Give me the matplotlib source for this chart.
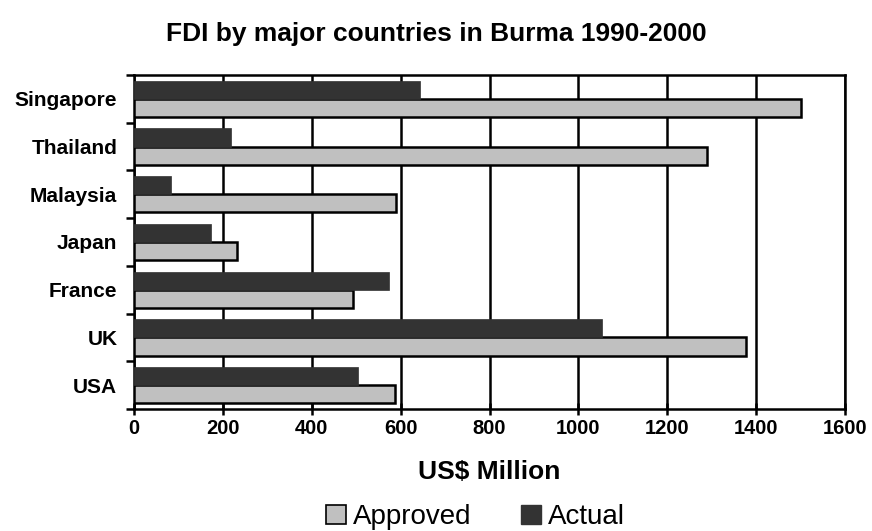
import numpy as np
import matplotlib
matplotlib.use("Agg")
import matplotlib.pyplot as plt
from matplotlib.patches import Patch

# data (US$ million)
countries = ["Singapore", "Thailand", "Malaysia", "Japan", "France", "UK", "USA"]
approved = [1500, 1290, 590, 231, 492, 1377, 587]
actual = [644, 218, 83, 174, 574, 1054, 503]
x_ticks = [0, 200, 400, 600, 800, 1000, 1200, 1400, 1600]

plt.rcParams["font.family"] = ["Liberation Sans", "DejaVu Sans"]

fig = plt.figure(figsize=(8.72, 5.31), dpi=100)
ax = fig.add_axes([0.1537, 0.2298, 0.8154, 0.629])

n = len(countries)
pos = np.arange(n)[::-1]  # Singapore on top
h = 0.38

ax.barh(pos - h / 2, approved, height=h, color="#c0c0c0",
        edgecolor="black", linewidth=1.8, zorder=3)
ax.barh(pos + h / 2, actual, height=h, color="#333333",
        edgecolor="#333333", linewidth=0.5, zorder=3)

ax.set_xlim(0, 1600)
ax.set_ylim(-0.5, n - 0.5)
ax.set_xticks(x_ticks)
ax.set_xticklabels([str(t) for t in x_ticks], fontsize=14.5, fontweight="bold")
ax.xaxis.grid(True, color="black", linewidth=1.8, zorder=1)
ax.set_axisbelow(True)

# category labels centred, tick marks at category boundaries
ax.set_yticks(pos)
ax.set_yticklabels(countries, fontsize=15, fontweight="bold")
ax.tick_params(axis="y", length=0, pad=12)
ax.set_yticks(np.arange(-0.5, n, 1.0), minor=True)
ax.tick_params(axis="y", which="minor", length=6, width=1.8, direction="out")
ax.tick_params(axis="x", length=9, width=1.8, direction="inout", pad=2.5)

for s in ax.spines.values():
    s.set_linewidth(1.8)

# x label centred under the plot area
ax_mid = 0.1537 + 0.8154 / 2
fig.text(ax_mid, 0.098, "US$ Million", ha="center", va="baseline",
         fontsize=19, fontweight="bold")
fig.text(0.5, 0.923, "FDI by major countries in Burma 1990-2000",
         ha="center", va="baseline", fontsize=19, fontweight="bold")

handles = [Patch(facecolor="#c0c0c0", edgecolor="black", linewidth=1.2, label="Approved"),
           Patch(facecolor="#333333", edgecolor="#333333", label="Actual")]
fig.legend(handles=handles, loc="center", bbox_to_anchor=(0.545, 0.026), ncol=2,
           frameon=False, fontsize=20, handlelength=0.72, handleheight=0.72,
           handletextpad=0.25, columnspacing=1.8, borderpad=0.1)

fig.savefig("out.png", dpi=100)
